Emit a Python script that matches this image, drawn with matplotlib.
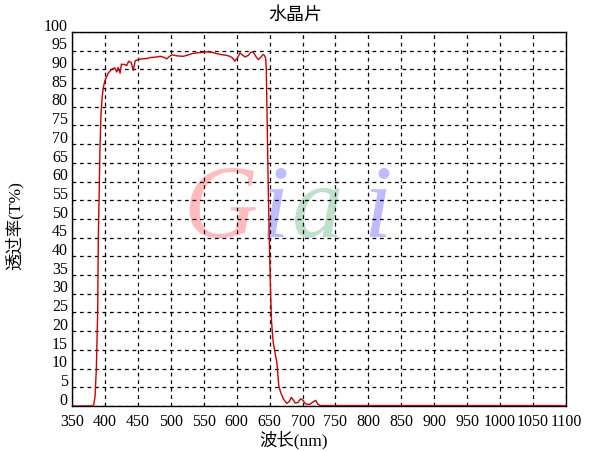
import matplotlib
matplotlib.use("Agg")
import matplotlib.pyplot as plt
import matplotlib.transforms as mtransforms

plt.rcParams['font.family'] = ['Liberation Serif', 'Noto Sans CJK SC', 'DejaVu Sans']

# spectrum
wavelength = [350, 380, 383, 385, 387, 389, 390, 392.5, 394, 396,
              398, 400, 405, 410, 415, 418, 420, 423, 425, 430,
              433, 436, 440, 443, 446, 450, 455, 463, 470, 478,
              484, 490, 494, 498, 502, 510, 519, 527, 534, 545,
              554, 562, 568, 575, 583, 590, 594, 597, 601, 605,
              609, 613, 618, 621, 625, 629, 633, 637, 640, 642,
              644, 645, 646.5, 648, 649.5, 651.5, 653, 655.5, 658, 661,
              664, 667, 671, 676, 680, 683, 686, 689, 693, 697,
              701, 704, 707, 711, 716, 720, 723, 727, 750, 800,
              900, 1000, 1100]
transmit = [0, 0, 0.3, 2.5, 10, 25, 45, 68.7, 78, 83,
            85.5, 87, 89, 90, 90.4, 89.3, 90.5, 89, 91.4, 91.3,
            91, 92.2, 91.8, 89.7, 92.3, 92.6, 92.8, 92.9, 93.2, 93.3,
            93.5, 93.2, 92.8, 93.5, 93.9, 93.6, 93.5, 93.9, 94.3, 94.5,
            94.7, 94.6, 94.3, 94, 93.8, 93.5, 93, 92.2, 93, 94.4,
            93.8, 93.3, 93.8, 94.5, 94.7, 93.5, 92.6, 93.3, 94, 93.8,
            93, 90, 74, 58, 45.5, 30.4, 22.4, 17, 14.5, 11.7,
            5.3, 3.5, 1.9, 0.7, 1.2, 2.3, 1.6, 0.8, 0.9, 1.9,
            1.5, 0.6, 0.5, 0.4, 1.1, 1.5, 0.5, 0.1, 0.1, 0.1,
            0.1, 0.1, 0.1]

xticks = list(range(350, 1101, 50))
yticks = list(range(0, 101, 5))

fig = plt.figure(figsize=(5.91, 4.52), dpi=100)
ax = fig.add_axes([0.1218, 0.0996, 0.8359, 0.8274])

# watermark
wm_letters = ['G', 'i', 'a', 'i']
wm_colors = ['#ffbcbc', '#bcbcff', '#bce0c8', '#bcbcff']
wm_x = [0.30, 0.41, 0.497, 0.618]
for ch, c, xx in zip(wm_letters, wm_colors, wm_x):
    ax.text(xx, 0.455, ch, transform=ax.transAxes, color=c, fontsize=74,
            fontstyle='italic', family='Liberation Serif', ha='center',
            va='baseline', zorder=0.1)

ax.plot(wavelength, transmit, color='#cc0000', lw=1.0, zorder=3)

ax.set_xlim(350, 1100)
ax.set_ylim(0, 100)
ax.set_xticks(xticks)
ax.set_yticks(yticks)
ax.grid(True, color='black', linestyle=(0, (3, 3)), linewidth=0.9)
ax.tick_params(length=0, labelsize=11.5)
ax.tick_params(axis='x', pad=5)
ax.tick_params(axis='y', pad=3)
for s in ax.spines.values():
    s.set_linewidth(1.0)

offset = mtransforms.ScaledTranslation(0, 6 / 72, fig.dpi_scale_trans)
for lab in ax.get_yticklabels():
    lab.set_transform(lab.get_transform() + offset)

fig.text(0.5, 1 - 15 / 452, '水晶片', fontsize=13, ha='center', va='center')
fig.text(0.497, 1 - 440 / 452, '波长(nm)', fontsize=12.5, ha='center', va='center')
fig.text(14 / 591, 1 - 226 / 452, '透过率(T%)', fontsize=12.5, ha='center',
         va='center', rotation=90)

fig.savefig('out.png', dpi=100)
